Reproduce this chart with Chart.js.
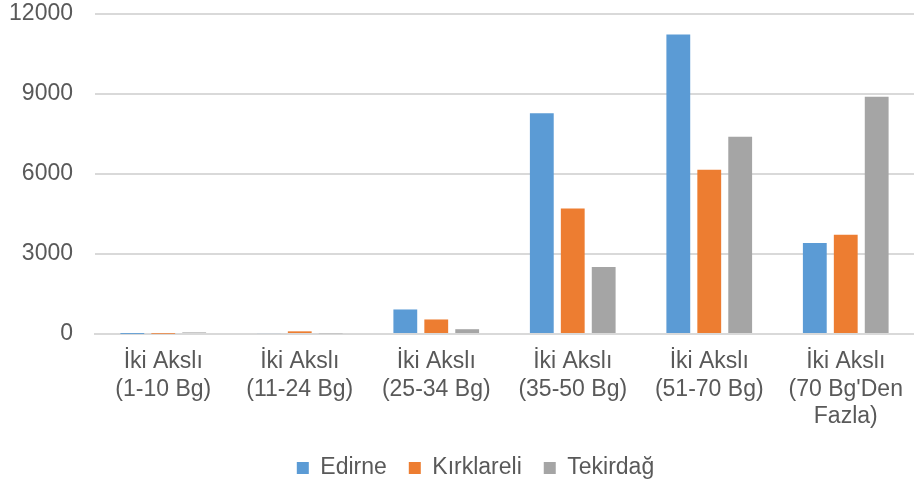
<!DOCTYPE html>
<html>
<head>
<meta charset="utf-8">
<script src="https://cdn.jsdelivr.net/npm/chart.js@4"></script>
<style>
  html, body { margin: 0; padding: 0; background: #fff; }
  #wrap { width: 914px; height: 486px; }
</style>
</head>
<body>
<div id="wrap"><canvas id="chart"></canvas></div>
<script>
// veriler
const categories = [
  ['İki Akslı', '(1-10 Bg)'],
  ['İki Akslı', '(11-24 Bg)'],
  ['İki Akslı', '(25-34 Bg)'],
  ['İki Akslı', '(35-50 Bg)'],
  ['İki Akslı', '(51-70 Bg)'],
  ['İki Akslı', "(70 Bg'Den", 'Fazla)']
];
const edirne     = [5, 35, 920, 8280, 11230, 3410];
const kirklareli = [10, 100, 545, 4710, 6160, 3725];
const tekirdag   = [60, 25, 180, 2510, 7400, 8900];
const yTicks = [0, 3000, 6000, 9000, 12000];

const textColor = '#595959';
const font = { family: 'Liberation Sans, Arial, sans-serif', size: 23 };

// legend: yerleşimden sonra biraz kaydır, öğeler arası boşluğu aç
const legendShift = {
  id: 'legendShift',
  afterLayout(chart) {
    const lg = chart.legend;
    lg.top -= 7.5;
    lg.left -= 5.5;
    lg.right -= 5.5;
    lg.options.labels.padding = 22;
  }
};

new Chart(document.getElementById('chart'), {
  type: 'bar',
  data: {
    labels: categories,
    datasets: [
      { label: 'Edirne', data: edirne, backgroundColor: '#5B9BD5' },
      { label: 'Kırklareli', data: kirklareli, backgroundColor: '#ED7D31' },
      { label: 'Tekirdağ', data: tekirdag, backgroundColor: '#A5A5A5' }
    ]
  },
  options: {
    responsive: true,
    maintainAspectRatio: false,
    animation: false,
    layout: { padding: { top: 0, right: -7, bottom: 0, left: 8 } },
    datasets: { bar: { categoryPercentage: 0.68, barPercentage: 0.77 } },
    plugins: {
      tooltip: { enabled: false },
      legend: {
        position: 'bottom',
        labels: { color: textColor, font: font, boxWidth: 12, boxHeight: 12, padding: 11 }
      }
    },
    scales: {
      x: {
        grid: { display: false },
        border: { color: '#D9D9D9', width: 2 },
        ticks: { color: textColor, font: font, padding: 6, maxRotation: 0, autoSkip: false },
        afterFit: axis => { axis.paddingLeft = 0; axis.paddingRight = 0; axis.height = 108; }
      },
      y: {
        min: 0,
        max: 12000,
        afterBuildTicks: axis => { axis.ticks = yTicks.map(v => ({ value: v })); },
        afterFit: axis => { axis.paddingTop = 14; axis.paddingBottom = 14; axis.width = 87; },
        grid: { color: '#D9D9D9', lineWidth: 2, drawTicks: false },
        border: { display: false },
        ticks: { color: textColor, font: font, padding: 22, callback: v => String(v) }
      }
    }
  },
  plugins: [legendShift]
});
</script>
</body>
</html>
